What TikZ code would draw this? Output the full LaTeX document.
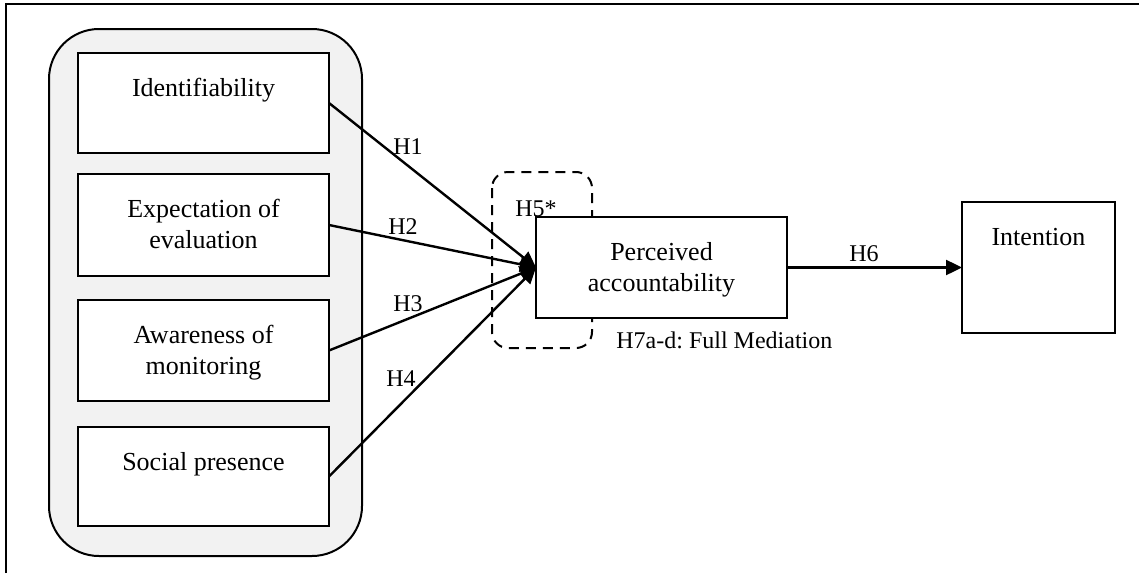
\documentclass[tikz,border=0pt]{standalone}
\usepackage{fontspec}
\setmainfont{Liberation Serif}
\usetikzlibrary{arrows.meta}
\frenchspacing
\newcommand\constructtext[1]{\parbox[t]{120pt}{\centering #1}}
\begin{document}
\begin{tikzpicture}[x=0.5pt,y=-0.5pt,
  frame/.style={line width=1.2pt},
  group/.style={draw, line width=1pt, fill=black!5, rounded corners=25pt},
  construct/.style={draw, line width=1pt, fill=white, inner sep=0pt, outer sep=0pt},
  caption/.style={inner sep=0pt, anchor=base, font=\fontsize{13}{15.5}\selectfont},
  hyp/.style={inner sep=0pt, anchor=base west, font=\fontsize{12}{14}\selectfont},
  path arrow/.style={line width=1.2pt, -{Triangle[length=8pt,width=7.5pt]}},
  mediation/.style={draw, line width=1pt, dash pattern=on 5pt off 3.5pt, rounded corners=8pt}]

\useasboundingbox (0,0) rectangle (1139,573);

% outer frame (top and left edges)
\draw[frame] (6,573) -- (6,4) -- (1139,4);

% grouping of the antecedents
\draw[group] (49,29) rectangle (362,556);

% mediation region
\draw[mediation] (492,172) rectangle (592,348);

% antecedent constructs
\node[construct, minimum width=125.5pt, minimum height=50pt]   (b1) at (203.5,103)   {};
\node[construct, minimum width=125.5pt, minimum height=51pt]   (b2) at (203.5,225)   {};
\node[construct, minimum width=125.5pt, minimum height=50.5pt] (b3) at (203.5,350.5) {};
\node[construct, minimum width=125.5pt, minimum height=49.5pt] (b4) at (203.5,476.5) {};

% mediator and outcome
\node[construct, minimum width=125.5pt, minimum height=50.5pt] (pa)  at (661.5,267.5)  {};
\node[construct, minimum width=76.5pt,  minimum height=65.5pt] (int) at (1038.5,267.5) {};

% construct names
\node[caption] (t1) at (203.5,96.5)  {\constructtext{Identifiability}};
\node[caption] (t2) at (203.5,217.5) {\constructtext{Expectation of\\evaluation}};
\node[caption] (t3) at (203.5,343.5) {\constructtext{Awareness of\\monitoring}};
\node[caption] (t4) at (203.5,470.5) {\constructtext{Social presence}};
\node[caption] (t5) at (661.5,260.5) {\constructtext{Perceived\\accountability}};
\node[caption] (t6) at (1038.5,245.5) {\constructtext{Intention}};

% hypothesised paths
\draw[path arrow] (b1.east) -- (pa.west);
\draw[path arrow] (b2.east) -- (pa.west);
\draw[path arrow] (b3.east) -- (pa.west);
\draw[path arrow] (b4.east) -- (pa.west);
\draw[path arrow] (pa.east) -- (int.west |- pa.east);

% path labels
\node[hyp] (h1) at (393,154) {H1};
\node[hyp] (h2) at (388,234) {H2};
\node[hyp] (h3) at (393,311) {H3};
\node[hyp] (h4) at (386,386) {H4};
\node[hyp] (h5) at (515,216) {H5*};
\node[hyp] (h6) at (849,261) {H6};
\node[hyp] (h7) at (616,348) {H7a-d: Full Mediation};
\end{tikzpicture}
\end{document}
